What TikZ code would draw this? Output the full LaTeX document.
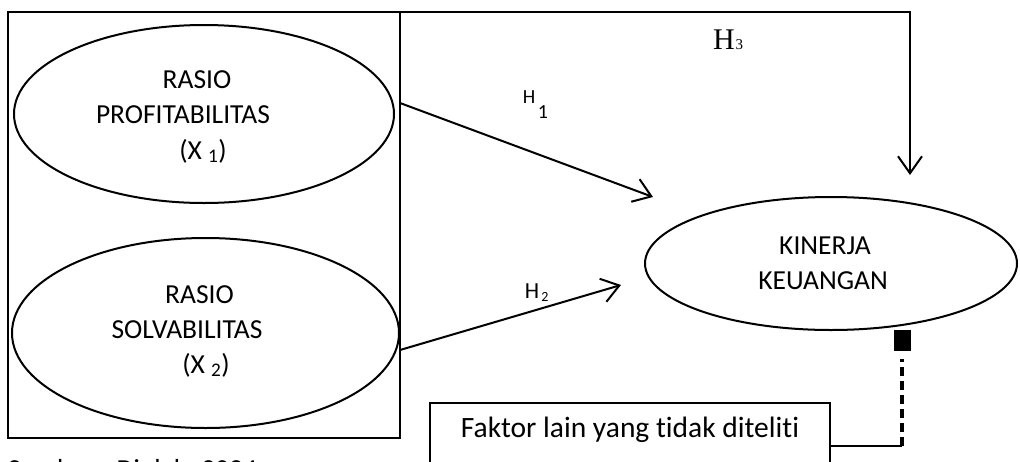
\documentclass[tikz,border=0pt]{standalone}
\usepackage{fontspec}
\setmainfont{Carlito}[Ligatures=NoCommon]
\newfontfamily\hthreefont{Liberation Serif}
\usetikzlibrary{shapes.geometric,arrows.meta}
\begin{document}
\begin{tikzpicture}[x=1pt,y=-1pt,
  every node/.style={inner sep=0pt, outer sep=0pt},
  oval/.style={draw, ellipse, line width=2pt},
  lbl/.style={font=\fontsize{27.5}{33}\selectfont, anchor=base},
  barb/.style={-{Straight Barb[length=17pt,width=24pt,line width=2pt]}},
  conn/.style={line width=2pt, barb},
]
\useasboundingbox (0,0) rectangle (1020,461);
\clip (0,0) rectangle (1020,461);
% outer box
\node[draw, line width=2pt, minimum width=392pt, minimum height=426pt] (outer) at (204,225) {};
% ellipses
\node[oval, minimum width=380pt, minimum height=178pt] (prof) at (204,114) {};
\node[oval, minimum width=387pt, minimum height=190pt] (solv) at (205.5,333) {};
\node[oval, minimum width=372pt, minimum height=133pt] (kin) at (831,263.5) {};
% ellipse texts
\node[lbl] (p1) at (197,88) {RASIO};
\node[lbl] (p2) at (183,123) {PROFITABILITAS};
\node[lbl] (p3) at (203,159) {(X \textsubscript{1})};
\node[lbl] (s1) at (199.5,303) {RASIO};
\node[lbl] (s2) at (187,338) {SOLVABILITAS};
\node[lbl] (s3) at (206,373) {(X \textsubscript{2})};
\node[lbl] (k1) at (825,254) {KINERJA};
\node[lbl] (k2) at (823,289) {KEUANGAN};
% connectors
\coordinate (a1s) at (400,103);
\coordinate (a1e) at (653,197);
\coordinate (a2s) at (400,350);
\coordinate (a2e) at (621,285);
\coordinate (h3tip) at (910,175);
\draw[conn] (a1s) -- (a1e);
\draw[conn] (a2s) -- (a2e);
\draw[line width=1.5pt, barb] (outer.north east) -| (h3tip);
% hypothesis labels
\node[anchor=base, font=\fontsize{20}{24}\selectfont] (h1a) at (529,103) {H};
\node[anchor=base, font=\fontsize{20}{24}\selectfont] (h1b) at (543,118) {1};
\node[anchor=base, font=\fontsize{23}{28}\selectfont] (h2a) at (532,298) {H};
\node[anchor=base, font=\fontsize{14}{16}\selectfont] (h2b) at (545,301) {2};
\node[anchor=base west, font=\hthreefont\fontsize{30}{36}\selectfont] (h3a) at (713,49) {H};
\node[anchor=base west, font=\hthreefont\fontsize{15}{18}\selectfont] (h3b) at (735.5,49) {3};
% other factor
\node[draw, line width=2pt, minimum width=400pt, minimum height=86pt] (faktor) at (630,446) {};
\node[anchor=base, font=\fontsize{29.5}{36}\selectfont] (ftext) at (630,437) {Faktor lain yang tidak diteliti};
\node[fill=black, minimum width=17pt, minimum height=21pt] (sq) at (902.5,340.5) {};
\coordinate (dtop) at (902,359);
\coordinate (bend) at (902,446);
\draw[line width=1.3pt] (faktor.east) -- (bend);
\draw[line width=3.5pt, dash pattern=on 9pt off 5pt] (bend) -- (dtop);
% source caption
\node[anchor=base west, font=\fontsize{27.5}{33}\selectfont] (src) at (8,478) {Sumber : Diolah, 2024};
\end{tikzpicture}
\end{document}
